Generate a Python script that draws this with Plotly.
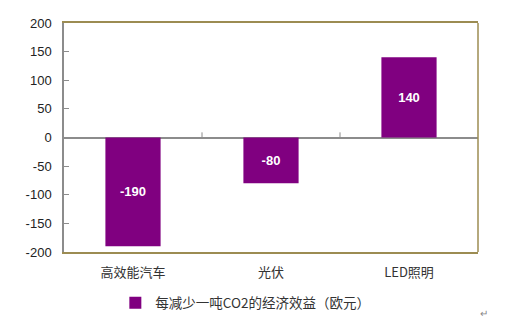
import plotly.graph_objects as go

categories = ["高效能汽车", "光伏", "LED照明"]
values = [-190, -80, 140]
series_name = "每减少一吨CO2的经济效益（欧元）"
y_ticks = [-200, -150, -100, -50, 0, 50, 100, 150, 200]

purple = "#800080"
olive = "#9c8c52"
gray = "#8c8c8c"

fig = go.Figure()
fig.add_trace(go.Bar(
    x=categories, y=values, name=series_name,
    marker=dict(color=purple, line=dict(width=0)),
    width=0.4,
    text=[str(v) for v in values],
    textposition="inside", insidetextanchor="middle",
    textfont=dict(color="white", size=13, family="Liberation Sans, Arial", weight="bold"),
    showlegend=True,
))

shapes = []
# x-axis tick marks between categories, drawn on the zero line
for b in [0.5, 1.5]:
    shapes.append(dict(type="line", xref="x", yref="y", x0=b, x1=b, y0=0, y1=9,
                       line=dict(color=gray, width=1)))
# right border
shapes.append(dict(type="line", xref="paper", yref="paper", x0=1, x1=1, y0=0, y1=1,
                   line=dict(color=olive, width=1.5)))

fig.update_layout(
    width=507, height=323,
    margin=dict(l=64, r=29, t=23, b=71, autoexpand=False),
    paper_bgcolor="white", plot_bgcolor="white",
    font=dict(family="Liberation Sans, Arial", size=12, color="#222"),
    bargap=0.6,
    shapes=shapes,
    legend=dict(orientation="h", x=0.124, xanchor="left", y=-0.155, yanchor="top",
                font=dict(size=13.5, color="#333", family="Noto Sans CJK SC, Liberation Sans"),
                itemwidth=30, bgcolor="rgba(0,0,0,0)"),
)
fig.add_annotation(text="↵", xref="paper", yref="paper", x=(490 - 64) / (507 - 93), y=-(321 - 252) / (323 - 94),
                   showarrow=False, font=dict(size=10, color="#888"))

fig.update_xaxes(
    type="category", showgrid=False, ticks="", ticklen=0,
    showline=True, linecolor=olive, linewidth=1.5, mirror=True,
    tickfont=dict(size=13, color="#333", family="Noto Sans CJK SC, Liberation Sans"),
    ticklabelstandoff=8,
    zeroline=False,
)
fig.update_yaxes(
    range=[-200, 200], tickvals=y_ticks, ticktext=[str(v) for v in y_ticks],
    showgrid=False, showline=True, linecolor=gray, linewidth=1.5,
    ticks="inside", ticklen=5, tickcolor=gray, tickwidth=1,
    zeroline=True, zerolinecolor=gray, zerolinewidth=1.5,
    ticklabelstandoff=8,
    tickfont=dict(size=13, color="#222"),
)

fig.write_html("out.html")
